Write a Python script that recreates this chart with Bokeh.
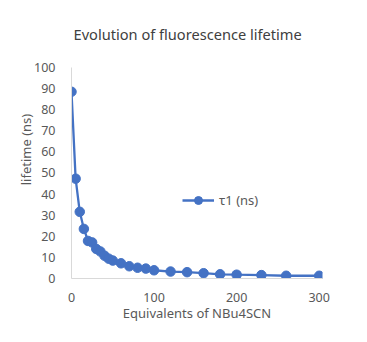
from bokeh.plotting import figure
from bokeh.models import Range1d, FixedTicker, Legend, LegendItem, Label
from bokeh.embed import file_html
from bokeh.resources import INLINE

# Data
equivalents = [0, 5, 10, 15, 20, 25, 30, 35, 40, 45, 50, 60, 70, 80, 90, 100,
               120, 140, 160, 180, 200, 230, 260, 300]
tau1_ns = [88.5, 47.3, 31.6, 23.5, 17.8, 17.1, 14.0, 12.8, 10.8, 9.4, 8.5, 7.2,
           5.8, 5.1, 4.7, 3.9, 3.3, 3.0, 2.5, 2.0, 1.8, 1.6, 1.3, 1.3]
x_ticks = [0, 100, 200, 300]
y_ticks = [0, 10, 20, 30, 40, 50, 60, 70, 80, 90, 100]

title_text = "Evolution of fluorescence  lifetime"
x_label = "Equivalents of NBu4SCN"
y_label = "lifetime (ns)"
series_name = "τ1 (ns)"

BLUE = "#4472C4"
TXT = "#595959"
AX = "#D9D9D9"
FONT = "Noto Sans"

p = figure(width=359, height=334, output_backend="svg", toolbar_location=None,
           x_range=Range1d(0, 304), y_range=Range1d(0, 122.27),
           min_border_left=71, min_border_right=37, min_border_top=20,
           min_border_bottom=56, title=None)
p.outline_line_color = None
p.background_fill_color = "white"
p.border_fill_color = "white"
p.xgrid.grid_line_color = None
p.ygrid.grid_line_color = None

title = Label(x=118, y=245, x_units="screen", y_units="screen", text=title_text,
              text_align="center", text_baseline="middle", text_font=FONT,
              text_font_size="14.6px", text_color="#404040")
p.add_layout(title)

for ax in (p.xaxis[0], p.yaxis[0]):
    ax.axis_line_color = AX
    ax.axis_line_width = 1
    ax.major_tick_line_color = None
    ax.minor_tick_line_color = None
    ax.major_label_text_font = FONT
    ax.major_label_text_font_size = "12.5px"
    ax.major_label_text_color = TXT
    ax.axis_label_text_font = FONT
    ax.axis_label_text_font_size = "13px"
    ax.axis_label_text_font_style = "normal"
    ax.axis_label_text_color = TXT

p.xaxis.ticker = FixedTicker(ticks=x_ticks)
p.yaxis.ticker = FixedTicker(ticks=y_ticks)
p.yaxis.bounds = (0, 100)
p.xaxis.axis_label = x_label
p.yaxis.axis_label = y_label
p.xaxis.major_label_standoff = 8
p.yaxis.major_label_standoff = 10
p.xaxis.axis_label_standoff = -1
p.yaxis.axis_label_standoff = -4

ln = p.line(equivalents, tau1_ns, line_color=BLUE, line_width=2.3)
sc = p.scatter(equivalents, tau1_ns, size=9.5, fill_color=BLUE, line_color=BLUE)

legend = Legend(items=[LegendItem(label=series_name, renderers=[ln, sc])],
                location=(111, 68), glyph_width=32, glyph_height=20,
                label_height=20, label_standoff=5, padding=0, margin=0,
                border_line_color=None, background_fill_alpha=0,
                label_text_font=FONT, label_text_font_size="13px",
                label_text_color=TXT)
p.add_layout(legend, "center")

open("out.html", "w").write(file_html(p, INLINE))
